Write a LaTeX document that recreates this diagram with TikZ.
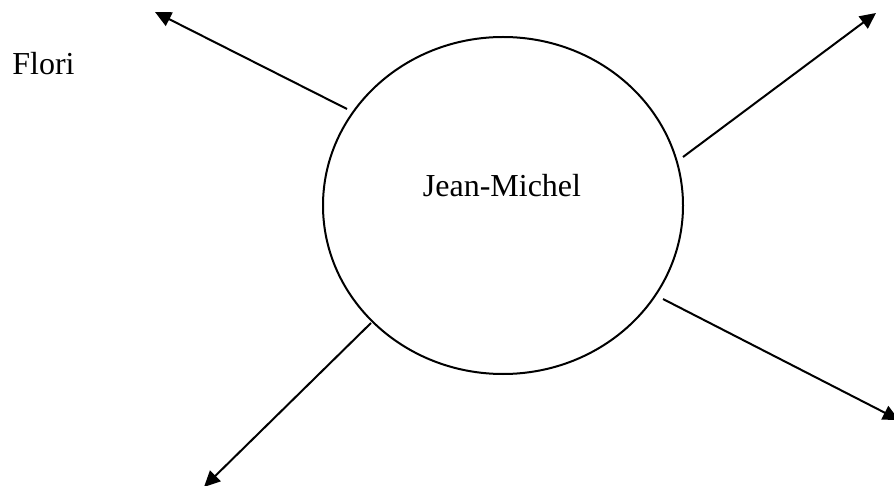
\documentclass[tikz,border=0pt]{standalone}
\usepackage{fontspec}
\setmainfont{Liberation Serif}
\usetikzlibrary{arrows.meta,shapes.geometric}
\begin{document}
\begin{tikzpicture}[x=0.5pt,y=-0.5pt,
  lbl/.style={inner sep=0pt,font=\fontsize{16}{19}\selectfont},
  conn/.style={line width=1pt,-{Triangle[length=8pt,width=7.5pt]}},
  bubble/.style={draw,line width=1pt,ellipse,minimum width=180pt,minimum height=168.5pt,inner sep=0pt}]
\useasboundingbox (0,0) rectangle (894,486);
\node[bubble] (c) at (503,205.5) {};
\node[lbl,anchor=base] (jm) at (502,197) {Jean-Michel};
\node[lbl,anchor=base west] (fl) at (12,75) {Flori};
\coordinate (s1) at (347,109);
\coordinate (t1) at (155,12);
\coordinate (s2) at (683,157);
\coordinate (t2) at (876,13);
\coordinate (s3) at (663,299);
\coordinate (t3) at (899,420);
\coordinate (s4) at (371,323);
\coordinate (t4) at (204,487);
\draw[conn] (s1) -- (t1);
\draw[conn] (s2) -- (t2);
\draw[conn] (s3) -- (t3);
\draw[conn] (s4) -- (t4);
\end{tikzpicture}
\end{document}
